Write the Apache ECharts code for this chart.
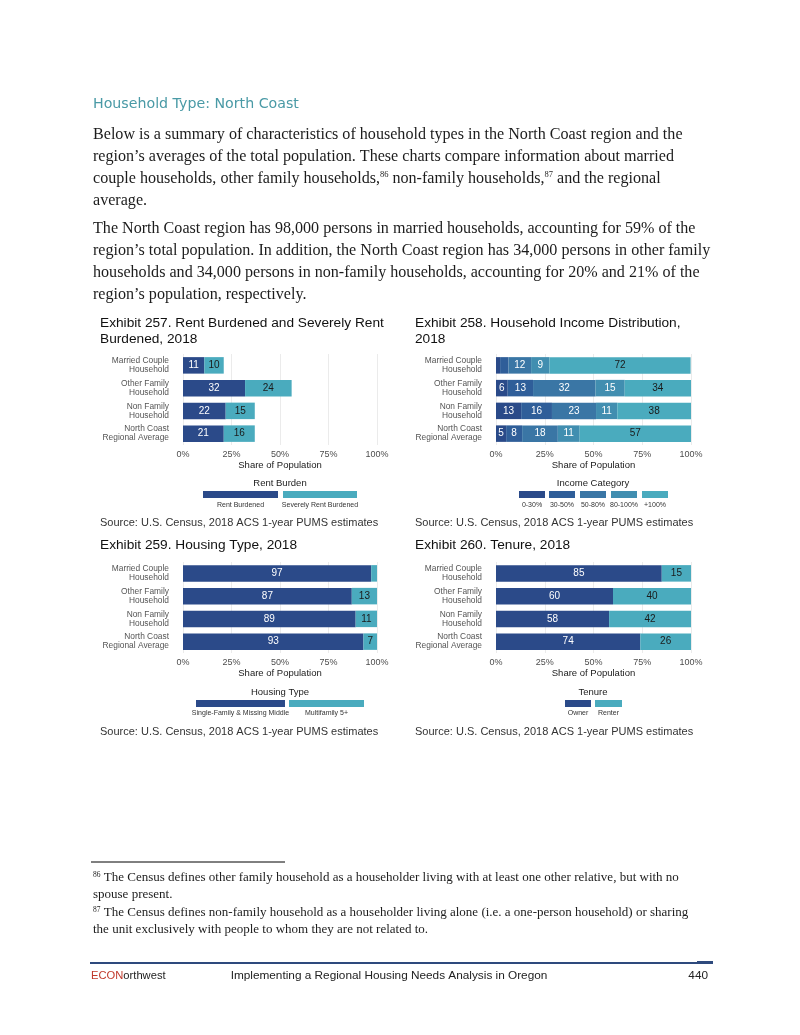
<!DOCTYPE html>
<html>
<head>
<meta charset="utf-8">
<script src="https://cdn.jsdelivr.net/npm/echarts@6/dist/echarts.min.js"></script>
<style>
html,body{margin:0;padding:0;background:#fff;}
#main{width:800px;height:1035px;}
</style>
</head>
<body>
<div id="main"></div>
<script>
// ---------------- DATA ----------------
const categories = ['Married Couple\nHousehold', 'Other Family\nHousehold', 'Non Family\nHousehold', 'North Coast\nRegional Average'];
const tickLabels = ['0%', '25%', '50%', '75%', '100%'];

// Exhibit 257 – Rent burden
const rentNames = ['Rent Burdened', 'Severely Rent Burdened'];
const rentBurdened = [11, 32, 22, 21];
const severelyRentBurdened = [10, 24, 15, 16];

// Exhibit 258 – Income distribution
const incomeNames = ['0-30%', '30-50%', '50-80%', '80-100%', '+100%'];
const income0to30 = [2.1, 6, 12.9, 5.2];
const income30to50 = [4.3, 13, 15.8, 8.2];
const income50to80 = [11.6, 32, 22.6, 18.3];
const income80to100 = [9.4, 15, 10.9, 11.2];
const income100plus = [72.4, 34, 37.8, 57.1];

// Exhibit 259 – Housing type
const housingNames = ['Single-Family & Missing Middle', 'Multifamily 5+'];
const singleFamily = [97, 87, 89, 93];
const multifamily = [3, 13, 11, 7];

// Exhibit 260 – Tenure
const tenureNames = ['Owner', 'Renter'];
const owner = [85, 60, 58, 74];
const renter = [15, 40, 42, 26];

// ---------------- STYLE ----------------
const SANS = 'Liberation Sans';
const SERIF = 'Liberation Serif';
const DARK = '#2b4a89';
const LIGHT = '#4aabbe';
const incomeColors = ['#2a4a89', '#2f5e99', '#3a76a5', '#418eb0', '#4aabbe'];
const incomeLabelColors = ['#ffffff', '#ffffff', '#ffffff', '#ffffff', '#1a1a1a'];

const charts = [
  { title: ['Exhibit 257. Rent Burdened and Severely Rent', 'Burdened, 2018'], names: rentNames, values: [rentBurdened, severelyRentBurdened], colors: [DARK, LIGHT], labelColors: ['#ffffff', '#1a1a1a'], legendTitle: 'Rent Burden' },
  { title: ['Exhibit 258. Household Income Distribution,', '2018'], names: incomeNames, values: [income0to30, income30to50, income50to80, income80to100, income100plus], colors: incomeColors, labelColors: incomeLabelColors, legendTitle: 'Income Category' },
  { title: ['Exhibit 259. Housing Type, 2018'], names: housingNames, values: [singleFamily, multifamily], colors: [DARK, LIGHT], labelColors: ['#ffffff', '#1a1a1a'], legendTitle: 'Housing Type' },
  { title: ['Exhibit 260. Tenure, 2018'], names: tenureNames, values: [owner, renter], colors: [DARK, LIGHT], labelColors: ['#ffffff', '#1a1a1a'], legendTitle: 'Tenure' }
];

// layout (pixels)
const layout = [
  { gridLeft: 183, gridTop: 354, gridW: 194, gridH: 91, titleX: 100, titleY: 323, legTitleY: 483, keyY: 491, labY: 505, keys: [[203, 75], [283, 74]], legCx: 280, srcY: 523 },
  { gridLeft: 496, gridTop: 354, gridW: 195, gridH: 91, titleX: 415, titleY: 323, legTitleY: 483, keyY: 491, labY: 505, keys: [[519, 26], [549, 26], [580, 26], [611, 26], [642, 26]], legCx: 593, srcY: 523 },
  { gridLeft: 183, gridTop: 562, gridW: 194, gridH: 91, titleX: 100, titleY: 545, legTitleY: 692, keyY: 700, labY: 713, keys: [[196, 89], [289, 75]], legCx: 280, srcY: 732 },
  { gridLeft: 496, gridTop: 562, gridW: 195, gridH: 91, titleX: 415, titleY: 545, legTitleY: 692, keyY: 700, labY: 713, keys: [[565, 26], [595, 27]], legCx: 593, srcY: 732 }
];

const sourceText = 'Source: U.S. Census, 2018 ACS 1-year PUMS estimates';

// ---------------- TEXT ----------------
const bodyLines = [
  { y: 135, t: 'Below is a summary of characteristics of household types in the North Coast region and the' },
  { y: 157, t: 'region’s averages of the total population. These charts compare information about married' },
  { y: 179, t: 'couple households, other family households,{s|86} non-family households,{s|87} and the regional' },
  { y: 201, t: 'average.' },
  { y: 229, t: 'The North Coast region has 98,000 persons in married households, accounting for 59% of the' },
  { y: 251, t: 'region’s total population. In addition, the North Coast region has 34,000 persons in other family' },
  { y: 273, t: 'households and 34,000 persons in non-family households, accounting for 20% and 21% of the' },
  { y: 295, t: 'region’s population, respectively.' }
];
const footLines = [
  { y: 878, t: '{s|86} The Census defines other family household as a householder living with at least one other relative, but with no' },
  { y: 895, t: 'spouse present.' },
  { y: 913, t: '{s|87} The Census defines non-family household as a householder living alone (i.e. a one-person household) or sharing' },
  { y: 930, t: 'the unit exclusively with people to whom they are not related to.' }
];

function txt(x, y, text, size, family, fill, align, extra) {
  return {
    type: 'text', x: x, y: y, silent: true,
    style: Object.assign({
      text: text, fontSize: size, fontFamily: family, fill: fill,
      textAlign: align || 'left', align: align || 'left',
      textVerticalAlign: 'middle', verticalAlign: 'middle'
    }, extra || {})
  };
}

const graphics = [];
graphics.push(txt(93, 104, 'Household Type: North Coast', 14.2, 'DejaVu Sans', '#4a9aa6'));
bodyLines.forEach(l => graphics.push(txt(93, l.y, l.t, 16.1, SERIF, '#1c1c1c', 'left', {
  rich: { s: { fontSize: 8.5, fontFamily: SERIF, fill: '#1c1c1c', verticalAlign: 'top', lineHeight: 17 } }
})));
graphics.push({ type: 'line', silent: true, shape: { x1: 91, y1: 862, x2: 285, y2: 862 }, style: { stroke: '#000', lineWidth: 1 } });
footLines.forEach(l => graphics.push(txt(93, l.y, l.t, 13, SERIF, '#1c1c1c', 'left', {
  rich: { s: { fontSize: 7.5, fontFamily: SERIF, fill: '#1c1c1c', verticalAlign: 'top', lineHeight: 13 } }
})));
// footer
graphics.push({ type: 'rect', silent: true, shape: { x: 90, y: 962, width: 623, height: 2 }, style: { fill: '#2e4a7d' } });
graphics.push({ type: 'rect', silent: true, shape: { x: 697, y: 961, width: 16, height: 3 }, style: { fill: '#2e4a7d' } });
graphics.push(txt(91, 976, '{r|ECON}{d|orthwest}', 11.5, SANS, '#222', 'left', {
  rich: { r: { fill: '#c0392b', fontSize: 11.2, fontFamily: SANS }, d: { fill: '#222', fontSize: 11.2, fontFamily: SANS } }
}));
graphics.push(txt(389, 976, 'Implementing a Regional Housing Needs Analysis in Oregon', 11.8, SANS, '#222', 'center'));
graphics.push(txt(708, 976, '440', 11.8, SANS, '#222', 'right'));

// chart titles, legends, sources
charts.forEach((c, i) => {
  const L = layout[i];
  c.title.forEach((t, k) => graphics.push(txt(L.titleX, L.titleY + k * 16.5, t, 13.7, SANS, '#111')));
  graphics.push(txt(L.legCx, L.legTitleY, c.legendTitle, 9.5, SANS, '#1a1a1a', 'center'));
  c.names.forEach((n, k) => {
    const [kx, kw] = L.keys[k];
    graphics.push({ type: 'rect', silent: true, shape: { x: kx, y: L.keyY, width: kw, height: 7 }, style: { fill: c.colors[k] } });
    graphics.push(txt(kx + kw / 2, L.labY, n, 7, SANS, '#333', 'center'));
  });
  graphics.push(txt(L.titleX, L.srcY, sourceText, 11, SANS, '#333'));
});

// ---------------- OPTION ----------------
const option = {
  animation: false,
  backgroundColor: '#ffffff',
  grid: layout.map(L => ({ left: L.gridLeft, top: L.gridTop, width: L.gridW, height: L.gridH, containLabel: false })),
  xAxis: layout.map((L, i) => ({
    gridIndex: i, type: 'value', min: 0, max: 100, interval: 25,
    axisLine: { show: false }, axisTick: { show: false },
    axisLabel: { formatter: v => tickLabels[Math.round(v / 25)], fontSize: 9, color: '#4d4d4d', margin: 5, fontFamily: SANS },
    splitLine: { show: true, lineStyle: { color: '#ebebeb', width: 1 } },
    name: 'Share of Population', nameLocation: 'middle', nameGap: 14,
    nameTextStyle: { fontSize: 9.5, color: '#1a1a1a', fontFamily: SANS }
  })),
  yAxis: layout.map((L, i) => ({
    gridIndex: i, type: 'category', data: categories, inverse: true,
    axisLine: { show: false }, axisTick: { show: false }, splitLine: { show: false },
    axisLabel: { fontSize: 8.4, color: '#555', lineHeight: 9, margin: 14, fontFamily: SANS, align: 'right' }
  })),
  series: [],
  graphic: { elements: graphics }
};

charts.forEach((c, i) => {
  c.names.forEach((n, k) => {
    option.series.push({
      type: 'bar', name: n, stack: 'stack' + i, xAxisIndex: i, yAxisIndex: i,
      data: c.values[k], barWidth: 16.5,
      itemStyle: { color: c.colors[k] },
      label: {
        show: true, position: 'inside', fontSize: 10, fontFamily: SANS, color: c.labelColors[k],
        formatter: p => (p.value >= 4.5 ? String(Math.round(p.value)) : '')
      },
      emphasis: { disabled: true }
    });
  });
});

const chart = echarts.init(document.getElementById('main'), null, { renderer: 'canvas' });
chart.setOption(option);
</script>
</body>
</html>
